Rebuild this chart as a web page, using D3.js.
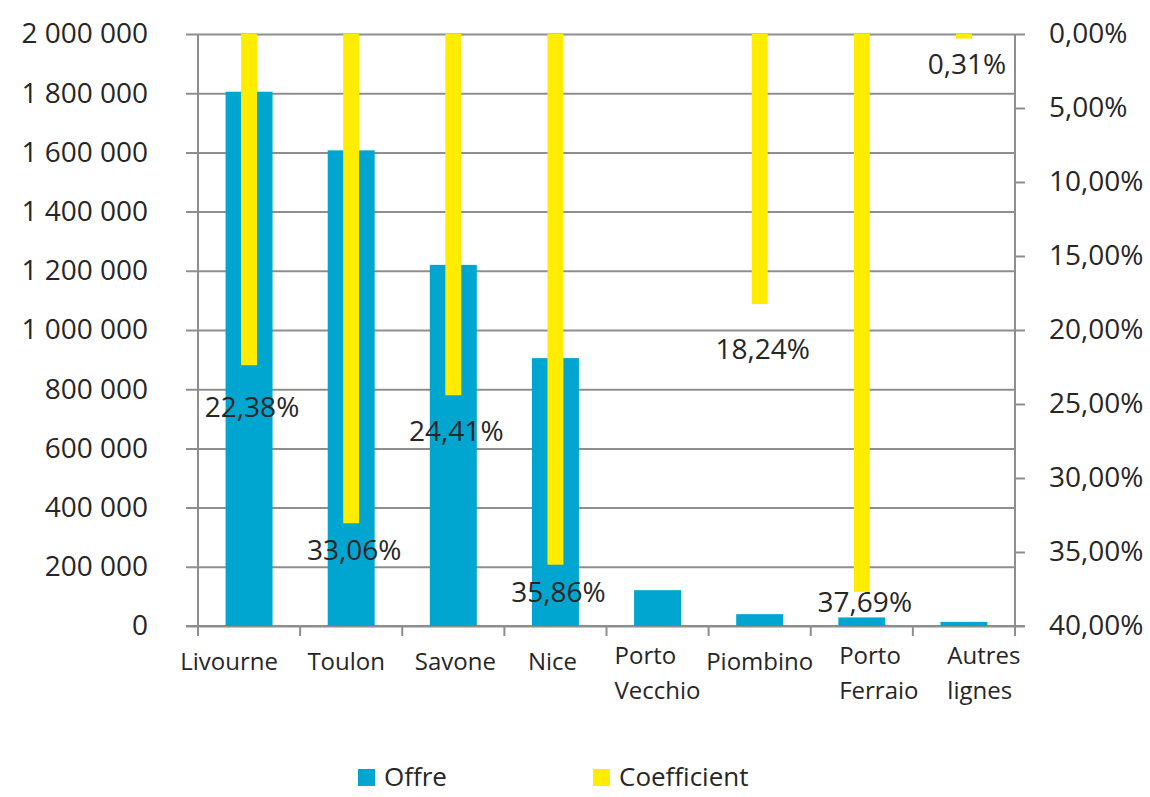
<!DOCTYPE html>
<html><head><meta charset="utf-8">
<script src="https://cdn.jsdelivr.net/npm/d3@7"></script>
<style>body{margin:0;background:#fff}</style>
</head><body><svg id="c" width="1150" height="797"></svg>
<script>
// ---- data ----
const categories = ["Livourne", "Toulon", "Savone", "Nice", "Porto Vecchio", "Piombino", "Porto Ferraio", "Autres lignes"];
const offre = [1805000, 1607000, 1220000, 905000, 121000, 40000, 29000, 14000];
const coefficient = [22.38, 33.06, 24.41, 35.86, null, 18.24, 37.69, 0.31];
const leftTicks = [0, 200000, 400000, 600000, 800000, 1000000, 1200000, 1400000, 1600000, 1800000, 2000000];
const rightTicks = [0, 5, 10, 15, 20, 25, 30, 35, 40];
const seriesNames = ["Offre", "Coefficient"];

// ---- layout (not data) ----
const labelNudge = [42, 27, 36, 27, 0, 45, 10, 26];
const xLabelShift = [-20, -5, 2, -3, 0, 0, 17, 20];
const L = 198, R = 1015, T = 34, B = 626;
const blue = "#00A6CF", yellow = "#FFEC00", grid = "#8e8e8e", txt = "#262626";
const font = "'Open Sans', sans-serif";

const svg = d3.select("#c");
const x = d3.scaleBand().domain(categories).range([L, R]).paddingInner(0.54).paddingOuter(0.27);
const yL = d3.scaleLinear().domain([0, 2000000]).range([B, T]);
const yR = d3.scaleLinear().domain([0, 40]).range([T, B]);
const fmtL = v => d3.format(",")(v).replace(/,/g, " ");
const fmtR = v => d3.format(".2f")(v).replace(".", ",") + "%";

// left axis with gridlines
const gl = svg.append("g").attr("transform", `translate(${L - 12},0)`)
  .call(d3.axisLeft(yL).tickValues(leftTicks).tickSize(-(R - L + 12)).tickPadding(38).tickFormat(fmtL));
gl.select(".domain").remove();
gl.selectAll(".tick line").attr("stroke", grid).attr("stroke-width", 2);
gl.selectAll(".tick text").attr("font-family", font).attr("font-size", 28).attr("fill", txt);

// right axis
const gr = svg.append("g").attr("transform", `translate(${R},0)`)
  .call(d3.axisRight(yR).tickValues(rightTicks).tickSize(10).tickPadding(24).tickFormat(fmtR));
gr.select(".domain").remove();
gr.selectAll(".tick line").attr("stroke", grid).attr("stroke-width", 2);
gr.selectAll(".tick text").attr("font-family", font).attr("font-size", 28).attr("fill", txt);

// axis lines
svg.append("line").attr("x1", L).attr("x2", L).attr("y1", T).attr("y2", B + 10).attr("stroke", grid).attr("stroke-width", 2);
svg.append("line").attr("x1", R).attr("x2", R).attr("y1", T).attr("y2", B + 10).attr("stroke", grid).attr("stroke-width", 2);

// bottom axis: category boundary ticks + labels
const gb = svg.append("g").attr("transform", `translate(0,${B})`)
  .call(d3.axisBottom(x).tickSize(0).tickPadding(0));
gb.select(".domain").remove();
gb.selectAll(".tick text").each(function (d, i) {
  const t = d3.select(this).text(null).attr("font-family", font).attr("font-size", 24).attr("fill", txt)
    .attr("y", 0).attr("dy", null).attr("text-anchor", "start");
  const words = d.split(" ");
  const spans = words.map((w, j) => t.append("tspan").attr("y", (words.length > 1 ? 38 : 44) + j * 35).text(w));
  const maxW = d3.max(spans, s => s.node().getComputedTextLength());
  spans.forEach(s => s.attr("x", -maxW / 2 + xLabelShift[i]));
});
d3.range(categories.length + 1).forEach(i => {
  const bx = L + i * x.step();
  svg.append("line").attr("x1", bx).attr("x2", bx).attr("y1", B).attr("y2", B + 10).attr("stroke", grid).attr("stroke-width", 2);
});
svg.append("line").attr("x1", L - 12).attr("x2", R + 10).attr("y1", B).attr("y2", B).attr("stroke", grid).attr("stroke-width", 2);

// Offre bars
svg.append("g").selectAll("rect").data(categories).join("rect")
  .attr("x", d => x(d)).attr("width", x.bandwidth())
  .attr("y", (d, i) => yL(offre[i])).attr("height", (d, i) => B - yL(offre[i]))
  .attr("fill", blue);

// Coefficient bars (reversed axis, hang from top)
const yw = x.bandwidth() * 0.34;
const coefIdx = categories.map((c, i) => i).filter(i => coefficient[i] != null);
svg.append("g").selectAll("rect").data(coefIdx).join("rect")
  .attr("x", i => x(categories[i]) + x.bandwidth() / 2 - yw / 2).attr("width", yw)
  .attr("y", yR(0)).attr("height", i => yR(coefficient[i]) - yR(0))
  .attr("fill", yellow);

// labels
svg.append("g").selectAll("text").data(coefIdx).join("text")
  .attr("x", i => x(categories[i]) + x.bandwidth() / 2 + 3)
  .attr("y", i => yR(coefficient[i]) + labelNudge[i])
  .attr("dy", "0.35em").attr("text-anchor", "middle")
  .attr("font-family", font).attr("font-size", 28).attr("fill", txt)
  .text(i => fmtR(coefficient[i]));

// legend
const lg = svg.append("g");
[[358, blue], [593, yellow]].forEach(([lx, col], k) => {
  lg.append("rect").attr("x", lx).attr("y", 769).attr("width", 17).attr("height", 17).attr("fill", col);
  lg.append("text").attr("x", lx + 26).attr("y", 777).attr("dy", "0.35em")
    .attr("font-family", font).attr("font-size", 26).attr("fill", txt).text(seriesNames[k]);
});
</script></body></html>
